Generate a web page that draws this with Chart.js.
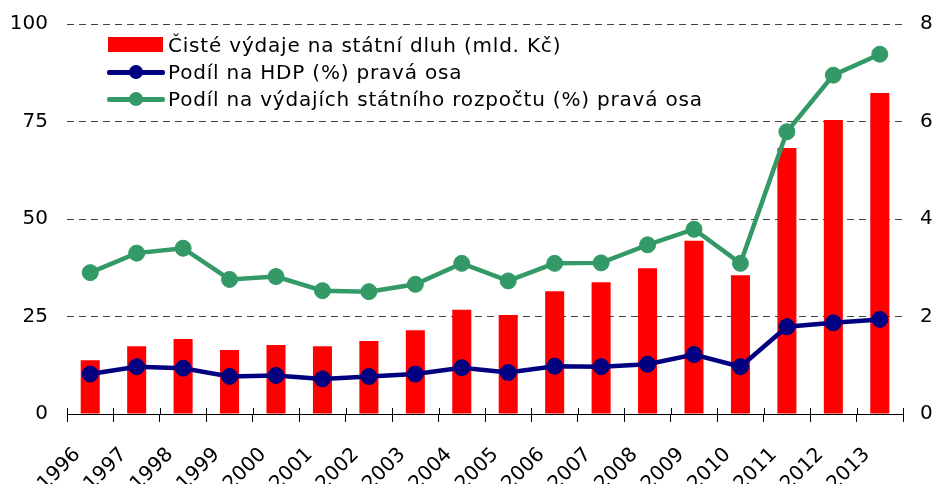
<!DOCTYPE html>
<html>
<head>
<meta charset="utf-8">
<script src="https://cdn.jsdelivr.net/npm/chart.js@4/dist/chart.umd.min.js"></script>
<style>
  html, body { margin: 0; padding: 0; background: #fff; overflow: hidden; }
  #wrap { position: relative; width: 935px; height: 484px; }
  #legend { position: absolute; left: 107px; top: 31px; font-family: "DejaVu Sans", Verdana, sans-serif; font-size: 20px; letter-spacing: 0.8px; color: #000; }
  .row { display: flex; align-items: center; height: 27px; }
  .sym { position: relative; width: 58px; height: 16px; margin-right: 3px; }
  .rect { position: absolute; left: 1px; top: 0; width: 55px; height: 15px; background: #ff0000; }
  .ln { position: absolute; left: 0; top: 6px; width: 58px; height: 5px; border-radius: 2px; }
  .dot { position: absolute; left: 22px; top: 1px; width: 14px; height: 14px; border-radius: 50%; }
</style>
</head>
<body>
<div id="wrap">
  <canvas id="graf" width="935" height="484"></canvas>
  <div id="legend"></div>
</div>
<script>
const roky = ["1996", "1997", "1998", "1999", "2000", "2001", "2002", "2003", "2004",
  "2005", "2006", "2007", "2008", "2009", "2010", "2011", "2012", "2013"];
// čisté výdaje na státní dluh (mld. Kč), levá osa
const vydaje = [13.8, 17.4, 19.2, 16.4, 17.7, 17.4, 18.7, 21.5, 26.7,
  25.4, 31.5, 33.8, 37.4, 44.4, 35.6, 68.2, 75.4, 82.3];
// podíl na HDP (%), pravá osa
const podilHdp = [0.82, 0.97, 0.94, 0.77, 0.79, 0.72, 0.77, 0.82, 0.95,
  0.85, 0.98, 0.97, 1.02, 1.22, 0.97, 1.79, 1.87, 1.94];
// podíl na výdajích státního rozpočtu (%), pravá osa
const podilRozpocet = [2.90, 3.30, 3.40, 2.76, 2.82, 2.53, 2.51, 2.66, 3.09,
  2.73, 3.09, 3.10, 3.47, 3.79, 3.09, 5.79, 6.95, 7.38];
const levaOsa = [0, 25, 50, 75, 100];
const pravaOsa = [0, 2, 4, 6, 8];

const nazvy = ["Čisté výdaje na státní dluh (mld. Kč)", "Podíl na HDP (%) pravá osa",
  "Podíl na výdajích státního rozpočtu (%) pravá osa"];
const barvy = ["#ff0000", "#000080", "#339966"];

const font = { family: "'DejaVu Sans', Verdana, sans-serif", size: 20 };

// osy nemají přidávat vlastní okraje nahoře/dole
const bezOkraju = (s) => { s.paddingTop = 0; s.paddingBottom = 0; };

// značky na ose x přesahují i nad osu (jako v Excelu)
const znackyNahoru = {
  id: "znackyNahoru",
  afterDraw(chart) {
    const x = chart.scales.x;
    const c = chart.ctx;
    const krok = (x.right - x.left) / roky.length;
    c.save();
    c.strokeStyle = "#000";
    c.lineWidth = 1;
    c.beginPath();
    for (let i = 0; i <= roky.length; i++) {
      const px = Math.round(x.left + i * krok) + 0.5;
      c.moveTo(px, x.top - 6);
      c.lineTo(px, x.top);
    }
    c.stroke();
    c.restore();
  },
};

const ctx = document.getElementById("graf").getContext("2d");
const graf = new Chart(ctx, {
  data: {
    labels: roky,
    datasets: [
      {
        type: "line",
        label: nazvy[1],
        data: podilHdp,
        yAxisID: "y1",
        borderColor: barvy[1],
        backgroundColor: barvy[1],
        borderWidth: 4.5,
        pointRadius: 8,
        pointBorderWidth: 1,
        pointBorderColor: barvy[1],
        order: 1,
      },
      {
        type: "line",
        label: nazvy[2],
        data: podilRozpocet,
        yAxisID: "y1",
        borderColor: barvy[2],
        backgroundColor: barvy[2],
        borderWidth: 4.5,
        pointRadius: 8,
        pointBorderWidth: 1,
        pointBorderColor: barvy[2],
        order: 2,
      },
      {
        type: "bar",
        label: nazvy[0],
        data: vydaje,
        yAxisID: "y",
        backgroundColor: barvy[0],
        categoryPercentage: 1,
        barPercentage: 0.41,
        order: 3,
      },
    ],
  },
  options: {
    responsive: false,
    animation: false,
    layout: { padding: { top: 24, left: 0, right: 0, bottom: 0 } },
    plugins: { legend: { display: false }, tooltip: { enabled: false } },
    scales: {
      x: {
        offset: true,
        grid: { offset: true, drawOnChartArea: false, drawTicks: true, tickLength: 8, color: "#000", lineWidth: 1 },
        border: { display: true, color: "#000", width: 1 },
        ticks: { font: font, color: "#000", minRotation: 45, maxRotation: 45, autoSkip: false, padding: 21, labelOffset: -13 },
        afterFit: (s) => { s.height = 70; s.paddingLeft = 0; s.paddingRight = 0; },
      },
      y: {
        position: "left",
        min: 0,
        max: 100,
        afterBuildTicks: (s) => { s.ticks = levaOsa.map((v) => ({ value: v })); },
        grid: {
          drawTicks: false,
          color: (c) => (c.tick && c.tick.value === 0 ? "rgba(0,0,0,0)" : "#444"),
          lineWidth: 1,
        },
        border: { display: false, dash: [7, 5] },
        ticks: { font: font, color: "#000", padding: 19 },
        afterFit: (s) => { s.width = 67; bezOkraju(s); },
      },
      y1: {
        position: "right",
        min: 0,
        max: 8,
        afterBuildTicks: (s) => { s.ticks = pravaOsa.map((v) => ({ value: v })); },
        grid: { display: false },
        border: { display: false },
        ticks: { font: font, color: "#000", padding: 9 },
        afterFit: (s) => { s.width = 32; bezOkraju(s); },
      },
    },
  },
  plugins: [znackyNahoru],
});

// legenda uvnitř grafu
const leg = document.getElementById("legend");
nazvy.forEach((n, i) => {
  const row = document.createElement("div");
  row.className = "row";
  const sym = document.createElement("div");
  sym.className = "sym";
  if (i === 0) {
    sym.innerHTML = '<div class="rect"></div>';
  } else {
    sym.innerHTML = `<div class="ln" style="background:${barvy[i]}"></div><div class="dot" style="background:${barvy[i]}"></div>`;
  }
  const txt = document.createElement("span");
  txt.textContent = n;
  row.appendChild(sym);
  row.appendChild(txt);
  leg.appendChild(row);
});
</script>
</body>
</html>
